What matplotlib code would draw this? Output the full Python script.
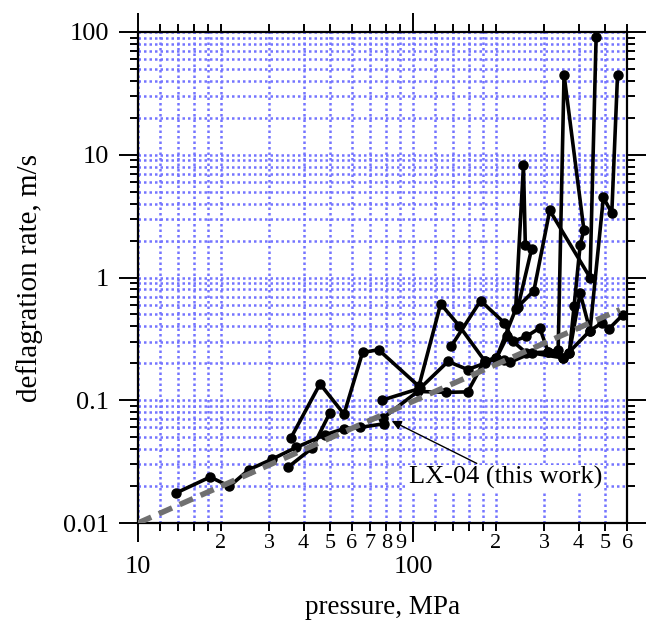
import matplotlib
matplotlib.use("Agg")
import matplotlib.pyplot as plt
from matplotlib.ticker import FixedLocator, FixedFormatter, NullFormatter

plt.rcParams['font.family'] = ['Liberation Serif', 'DejaVu Serif']

# LX-04 (this work)
lx04_p = [13.7, 18.3, 21.5, 25.3, 30.6, 37.6, 47.9, 56.1, 64.2, 78.5]
lx04_r = [0.0175, 0.0237, 0.0199, 0.0272, 0.033, 0.0413, 0.0524, 0.0586, 0.0601, 0.0644]

# other materials (literature)
s2_p = [35.2, 43.0, 49.8]
s2_r = [0.0286, 0.0408, 0.0787]

s3_p = [35.9, 45.9, 56.1, 65.5, 74.9, 105, 126, 147, 182, 201, 236, 252, 256, 270, 241, 275, 314, 440, 463]
s3_r = [0.049, 0.136, 0.077, 0.245, 0.258, 0.13, 0.61, 0.405, 0.21, 0.221, 0.55, 8.19, 1.83, 1.72, 0.58, 0.78, 3.52, 1.0, 91]

s4_p = [137.6, 176, 215, 231, 258, 289, 310, 337, 354, 418, 405, 385, 370]
s4_r = [0.275, 0.647, 0.426, 0.302, 0.331, 0.388, 0.247, 0.258, 44.9, 2.45, 1.83, 0.581, 0.243]

s5_p = [77, 106, 134, 158, 182, 201, 220, 258, 310, 352, 370, 405, 440, 492, 528, 554]
s5_r = [0.100, 0.125, 0.207, 0.178, 0.2, 0.221, 0.331, 0.243, 0.247, 0.221, 0.243, 0.748, 0.369, 4.49, 3.35, 44.9]

s6_p = [78, 104, 132, 158, 182, 215, 226, 270, 352, 440, 485, 516, 580]
s6_r = [0.072, 0.118, 0.116, 0.117, 0.21, 0.214, 0.205, 0.243, 0.221, 0.369, 0.426, 0.383, 0.498]

series = [(lx04_p, lx04_r), (s2_p, s2_r), (s3_p, s3_r), (s4_p, s4_r), (s5_p, s5_r), (s6_p, s6_r)]

# power-law fit (end points)
fit_p = [10, 565]
fit_r = [0.01, 0.547]

x_minor = [12, 14, 16, 18, 20, 30, 40, 50, 60, 70, 80, 90,
           120, 140, 160, 180, 200, 300, 400, 500, 600]
x_minor_lab = ['', '', '', '', '2', '3', '4', '5', '6', '7', '8', '9',
               '', '', '', '', '2', '3', '4', '5', '6']
y_major = [0.01, 0.1, 1, 10, 100]
y_major_lab = ['0.01', '0.1', '1', '10', '100']

fig = plt.figure(figsize=(6.48, 6.26), dpi=100)
ax = fig.add_axes([0.213, 0.1645, 0.7547, 0.7844])
ax.set_xscale('log')
ax.set_yscale('log')

for p, r in series:
    ax.plot(p, r, '-', color='black', lw=2.6, marker='o', markersize=6.5, zorder=3)

ax.plot(fit_p, fit_r, color='#707070', lw=4, dashes=(2.6, 1.5), zorder=4)

ax.set_xlim(10, 600)
ax.set_ylim(0.01, 100)

ax.xaxis.set_major_locator(FixedLocator([10, 100]))
ax.xaxis.set_major_formatter(FixedFormatter(['10', '100']))
ax.xaxis.set_minor_locator(FixedLocator(x_minor))
ax.xaxis.set_minor_formatter(FixedFormatter(x_minor_lab))
ax.yaxis.set_major_locator(FixedLocator(y_major))
ax.yaxis.set_major_formatter(FixedFormatter(y_major_lab))
ax.yaxis.set_minor_locator(FixedLocator([m * d for d in [0.01, 0.1, 1, 10] for m in range(2, 10)]))
ax.yaxis.set_minor_formatter(NullFormatter())

ax.tick_params(which='both', direction='out', top=True, right=True, width=1.4)
ax.tick_params(which='major', length=14, labelsize=19, pad=7)
ax.tick_params(axis='x', which='major', pad=10)
ax.tick_params(axis='x', which='minor', length=6, labelsize=16, pad=2)
ax.tick_params(axis='y', which='minor', length=6)
for s in ax.spines.values():
    s.set_linewidth(1.6)

ax.grid(True, which='both', color='#7474ff', linestyle=(0, (1, 1.2)), linewidth=1.8)
ax.set_axisbelow(True)

ax.set_xlabel('pressure, MPa', fontsize=19.5, labelpad=12)
ax.set_ylabel('deflagration rate, m/s', fontsize=21, labelpad=14)

ax.annotate('', xy=(81.9, 0.0695), xytext=(174, 0.0299),
            arrowprops=dict(arrowstyle='-|>', color='black', lw=1.0, mutation_scale=14))
ax.text(96.6, 0.0234, 'LX-04 (this work)', fontsize=19, va='center', ha='left',
        bbox=dict(facecolor='white', edgecolor='none', pad=1))

fig.savefig('out.png', dpi=100)
